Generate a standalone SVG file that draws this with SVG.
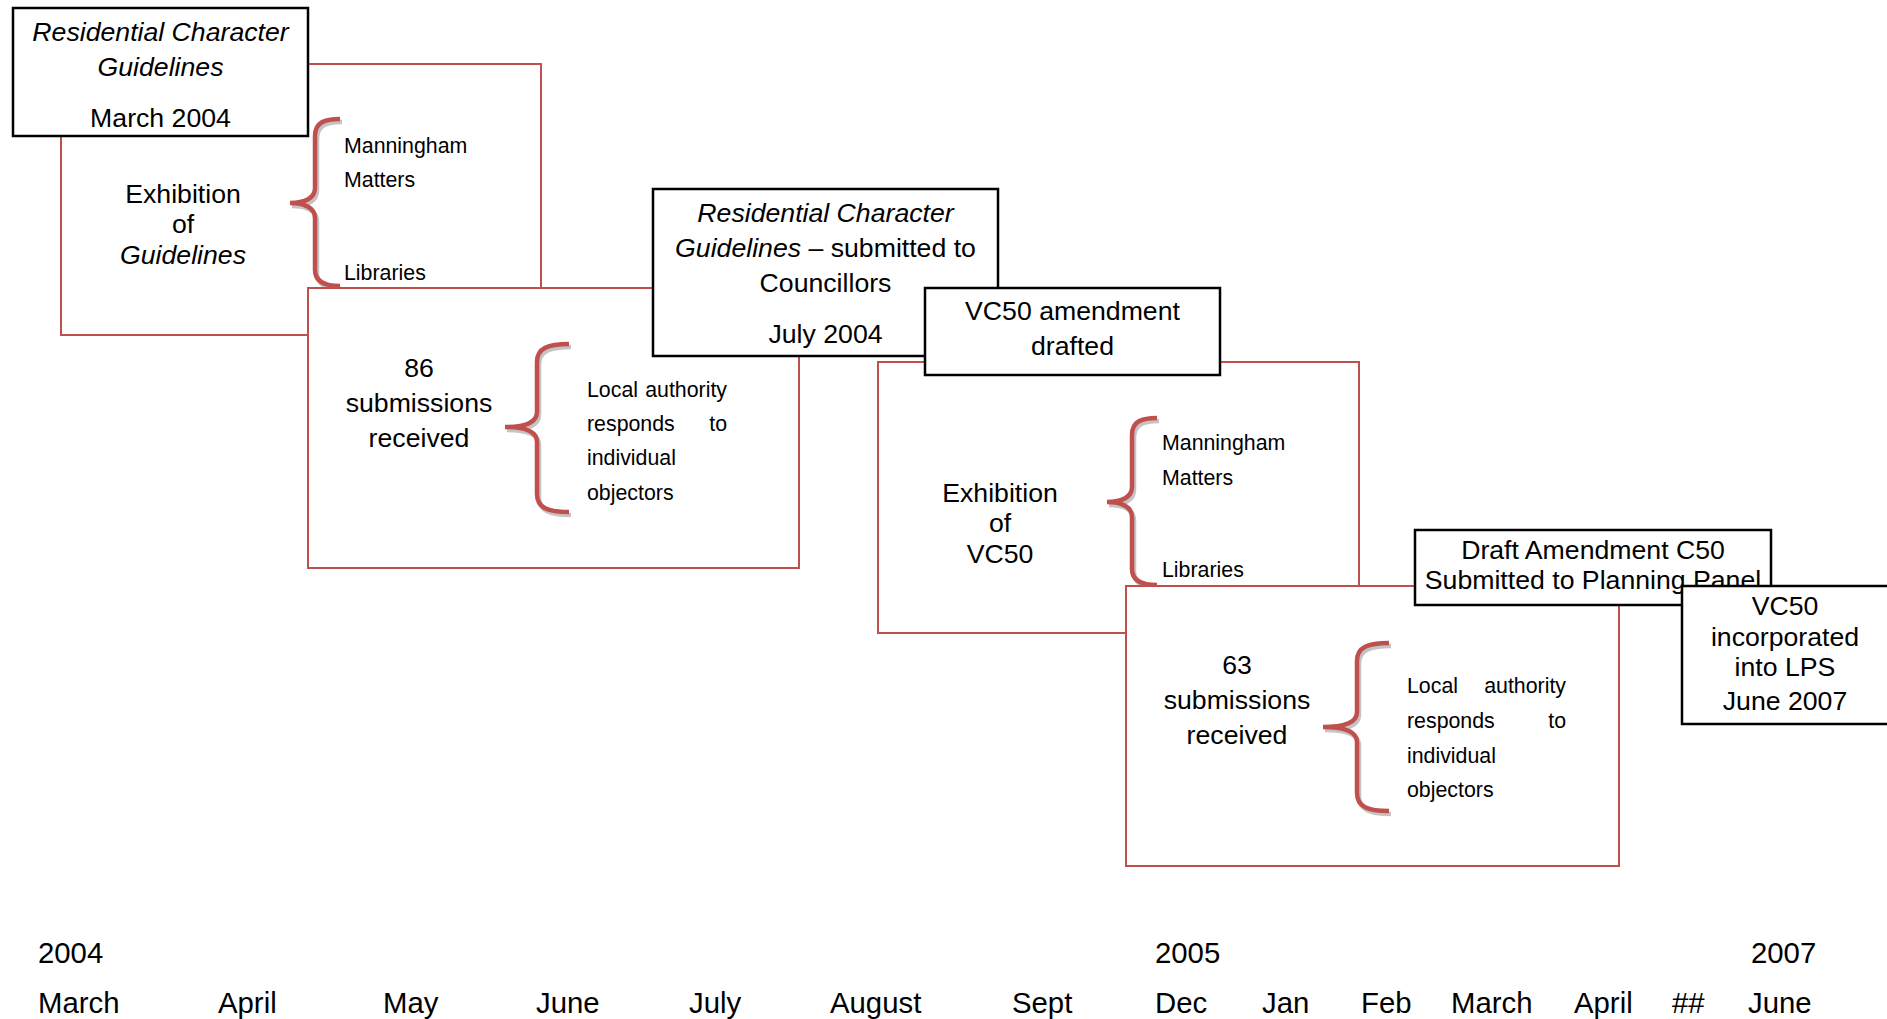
<svg xmlns="http://www.w3.org/2000/svg" width="1887" height="1019" viewBox="0 0 1887 1019">
<style>
text{font-family:"Liberation Sans",Arial,sans-serif;fill:#000}
.t{font-size:26.67px;text-anchor:middle}
.s{font-size:21.33px}
.e{text-anchor:end}
.tl{font-size:29.33px}
.i{font-style:italic}
.red{fill:#fff;stroke:#C0504D;stroke-width:2}
.blk{fill:#fff;stroke:#000;stroke-width:2.5}
.br{fill:none;stroke:#C0504D;stroke-width:4.5;stroke-linecap:butt}
.sh{fill:none;stroke:#c4c4c4;stroke-width:4.5}
</style>
<rect width="1887" height="1019" fill="#fff"/>

<g id="exhibition-guidelines">
<rect class="red" x="61" y="64" width="480" height="271"/>
<text class="t" x="183" y="203">Exhibition</text>
<text class="t" x="183" y="233">of</text>
<text class="t i" x="183" y="264">Guidelines</text>
<path class="sh" transform="translate(2,3)" d="M340,119 C325,119 315,122 315,136 L315,188 C315,198 305,203 290,203 C305,203 315,208 315,218 L315,270 C315,282 325,286 340,286"/>
<path class="br" d="M340,119 C325,119 315,122 315,136 L315,188 C315,198 305,203 290,203 C305,203 315,208 315,218 L315,270 C315,282 325,286 340,286"/>
<text class="s" x="344" y="153">Manningham</text>
<text class="s" x="344" y="187">Matters</text>
<text class="s" x="344" y="280">Libraries</text>
</g>

<g id="rcg-march-2004">
<rect class="blk" x="13" y="8" width="295" height="128"/>
<text class="t i" x="160.5" y="41">Residential Character</text>
<text class="t i" x="160.5" y="76">Guidelines</text>
<text class="t" x="160.5" y="127">March 2004</text>
</g>

<g id="submissions-86">
<rect class="red" x="308" y="288" width="491" height="280"/>
<text class="t" x="419" y="377">86</text>
<text class="t" x="419" y="412">submissions</text>
<text class="t" x="419" y="447">received</text>
<path class="sh" transform="translate(2,3)" d="M569,344 C548,344 537,348 537,362 L537,412 C537,422 525,427 505,427 C525,427 537,432 537,442 L537,494 C537,508 548,512 569,512"/>
<path class="br" d="M569,344 C548,344 537,348 537,362 L537,412 C537,422 525,427 505,427 C525,427 537,432 537,442 L537,494 C537,508 548,512 569,512"/>
<text class="s" x="587" y="397">Local</text>
<text class="s e" x="727" y="397">authority</text>
<text class="s" x="587" y="431">responds</text>
<text class="s e" x="727" y="431">to</text>
<text class="s" x="587" y="465">individual</text>
<text class="s" x="587" y="500">objectors</text>
</g>

<g id="rcg-july-2004">
<rect class="blk" x="653" y="189" width="345" height="167"/>
<text class="t i" x="825.5" y="222">Residential Character</text>
<text class="t" x="825.5" y="257"><tspan font-style="italic">Guidelines</tspan> – submitted to</text>
<text class="t" x="825.5" y="292">Councillors</text>
<text class="t" x="825.5" y="343">July 2004</text>
</g>

<g id="exhibition-vc50">
<rect class="red" x="878" y="362" width="481" height="271"/>
<text class="t" x="1000" y="502">Exhibition</text>
<text class="t" x="1000" y="532">of</text>
<text class="t" x="1000" y="563">VC50</text>
<path class="sh" transform="translate(2,3)" d="M1157,418 C1142,418 1132,421 1132,435 L1132,487 C1132,497 1122,502 1107,502 C1122,502 1132,507 1132,517 L1132,569 C1132,581 1142,585 1157,585"/>
<path class="br" d="M1157,418 C1142,418 1132,421 1132,435 L1132,487 C1132,497 1122,502 1107,502 C1122,502 1132,507 1132,517 L1132,569 C1132,581 1142,585 1157,585"/>
<text class="s" x="1162" y="450">Manningham</text>
<text class="s" x="1162" y="485">Matters</text>
<text class="s" x="1162" y="577">Libraries</text>
</g>

<g id="vc50-drafted">
<rect class="blk" x="925" y="288" width="295" height="87"/>
<text class="t" x="1072.5" y="320">VC50 amendment</text>
<text class="t" x="1072.5" y="355">drafted</text>
</g>

<g id="submissions-63">
<rect class="red" x="1126" y="586" width="493" height="280"/>
<text class="t" x="1237" y="674">63</text>
<text class="t" x="1237" y="709">submissions</text>
<text class="t" x="1237" y="744">received</text>
<path class="sh" transform="translate(2,3)" d="M1389,643 C1368,643 1357,647 1357,661 L1357,712 C1357,722 1345,727 1323,727 C1345,727 1357,732 1357,742 L1357,793 C1357,807 1368,811 1389,811"/>
<path class="br" d="M1389,643 C1368,643 1357,647 1357,661 L1357,712 C1357,722 1345,727 1323,727 C1345,727 1357,732 1357,742 L1357,793 C1357,807 1368,811 1389,811"/>
<text class="s" x="1407" y="693">Local</text>
<text class="s e" x="1566" y="693">authority</text>
<text class="s" x="1407" y="728">responds</text>
<text class="s e" x="1566" y="728">to</text>
<text class="s" x="1407" y="763">individual</text>
<text class="s" x="1407" y="797">objectors</text>
</g>

<g id="draft-c50">
<rect class="blk" x="1415" y="530" width="356" height="75"/>
<text class="t" x="1593" y="559">Draft Amendment C50</text>
<text class="t" x="1593" y="589">Submitted to Planning Panel</text>
</g>

<g id="vc50-lps">
<rect class="blk" x="1682" y="586" width="220" height="138"/>
<text class="t" x="1785" y="615">VC50</text>
<text class="t" x="1785" y="646">incorporated</text>
<text class="t" x="1785" y="676">into LPS</text>
<text class="t" x="1785" y="710">June 2007</text>
</g>

<g id="connectors"></g>

<g id="timeline">
<text class="tl" x="38" y="963">2004</text>
<text class="tl" x="1155" y="963">2005</text>
<text class="tl" x="1751" y="963">2007</text>
<text class="tl" x="38" y="1013">March</text>
<text class="tl" x="218" y="1013">April</text>
<text class="tl" x="383" y="1013">May</text>
<text class="tl" x="536" y="1013">June</text>
<text class="tl" x="689" y="1013">July</text>
<text class="tl" x="830" y="1013">August</text>
<text class="tl" x="1012" y="1013">Sept</text>
<text class="tl" x="1155" y="1013">Dec</text>
<text class="tl" x="1262" y="1013">Jan</text>
<text class="tl" x="1361" y="1013">Feb</text>
<text class="tl" x="1451" y="1013">March</text>
<text class="tl" x="1574" y="1013">April</text>
<text class="tl" x="1672" y="1013">##</text>
<text class="tl" x="1748" y="1013">June</text>
</g>
</svg>
